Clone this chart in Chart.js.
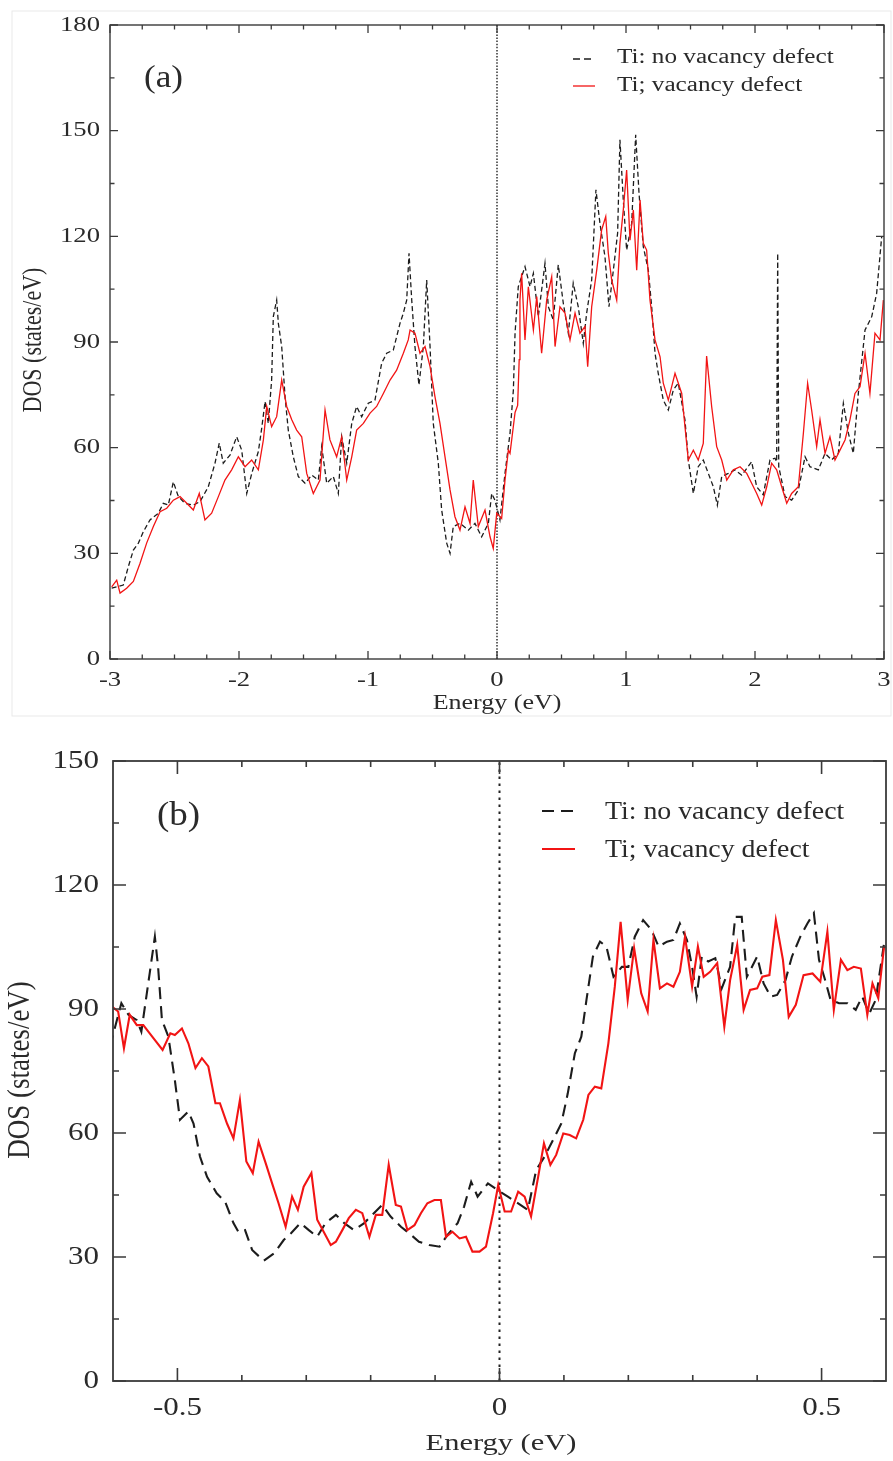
<!DOCTYPE html>
<html>
<head>
<meta charset="utf-8">
<title>Ti DOS with and without vacancy defect</title>
<script src="https://cdn.jsdelivr.net/npm/chart.js@4.4.4/dist/chart.umd.min.js"></script>
<style>
  html, body { margin: 0; padding: 0; background: #fff; }
  body { width: 893px; height: 1461px; position: relative; overflow: hidden; }
  canvas { position: absolute; left: 0; }
  #panelA { top: 0; }
  #panelB { top: 722px; }
</style>
</head>
<body>
<canvas id="panelA" width="893" height="722"></canvas>
<canvas id="panelB" width="893" height="739"></canvas>
<script>
// ---- values ----

// (a) -3 .. 3 eV, no vacancy (black dashed)
const energyA_noVac = [-2.987, -2.897, -2.858, -2.819, -2.780, -2.742, -2.690, -2.625, -2.587, -2.548,
  -2.509, -2.470, -2.419, -2.354, -2.302, -2.238, -2.186, -2.153, -2.122, -2.070,
  -2.018, -1.979, -1.940, -1.901, -1.850, -1.824, -1.798, -1.773, -1.747, -1.734,
  -1.708, -1.695, -1.669, -1.643, -1.618, -1.579, -1.540, -1.488, -1.436, -1.385,
  -1.359, -1.320, -1.269, -1.230, -1.204, -1.165, -1.126, -1.088, -1.049, -0.998,
  -0.946, -0.894, -0.855, -0.804, -0.752, -0.726, -0.700, -0.682, -0.661, -0.636,
  -0.605, -0.571, -0.545, -0.519, -0.494, -0.455, -0.429, -0.390, -0.364, -0.339,
  -0.287, -0.222, -0.171, -0.119, -0.067, -0.041, -0.016, 0.023, 0.062, 0.101,
  0.127, 0.140, 0.165, 0.217, 0.256, 0.282, 0.320, 0.372, 0.398, 0.436,
  0.475, 0.514, 0.553, 0.591, 0.630, 0.669, 0.695, 0.734, 0.767, 0.798,
  0.837, 0.868, 0.902, 0.935, 0.953, 0.979, 1.005, 1.044, 1.075, 1.101,
  1.134, 1.173, 1.199, 1.225, 1.250, 1.289, 1.328, 1.367, 1.405, 1.457,
  1.483, 1.522, 1.560, 1.599, 1.638, 1.677, 1.708, 1.742, 1.793, 1.845,
  1.897, 1.974, 2.013, 2.064, 2.116, 2.155, 2.168, 2.176, 2.184, 2.233,
  2.284, 2.336, 2.388, 2.426, 2.491, 2.543, 2.594, 2.646, 2.685, 2.724,
  2.762, 2.801, 2.853, 2.905, 2.943, 2.982];
const dosA_noVac = [20.1, 21.0, 26.2, 30.9, 32.9, 36.1, 39.5, 41.4, 44.2, 43.7,
  50.3, 46.1, 44.2, 43.7, 44.7, 48.9, 55.6, 61.3, 55.6, 57.9,
  63.1, 59.3, 47.0, 52.7, 58.9, 65.5, 73.1, 66.9, 79.2, 97.2,
  101.9, 95.3, 88.7, 74.5, 65.0, 57.4, 51.8, 49.9, 52.2, 50.8,
  60.3, 49.9, 51.8, 47.0, 63.1, 55.6, 66.9, 71.7, 68.8, 72.6,
  73.5, 84.0, 86.8, 87.7, 95.3, 98.2, 101.9, 115.2, 101.9, 88.7,
  77.8, 88.7, 107.6, 88.7, 66.9, 55.6, 42.3, 32.9, 30.0, 37.6,
  38.5, 36.6, 38.5, 34.7, 38.5, 47.0, 45.1, 39.5, 52.7, 64.1,
  76.4, 92.6, 105.7, 111.4, 105.7, 109.5, 97.2, 112.3, 100.0, 96.3,
  111.9, 101.0, 92.5, 106.7, 100.0, 89.6, 98.2, 107.6, 133.2, 123.7,
  114.2, 100.0, 110.4, 120.9, 147.4, 130.3, 116.1, 123.7, 148.8, 132.2,
  117.1, 110.4, 100.0, 86.8, 81.1, 73.5, 70.7, 76.4, 78.3, 67.9,
  56.5, 47.0, 54.6, 56.5, 52.7, 48.9, 43.7, 51.8, 52.7, 53.7,
  52.2, 56.0, 48.9, 46.6, 56.5, 57.0, 56.0, 115.2, 54.6, 46.1,
  45.1, 48.0, 57.4, 54.6, 53.7, 58.4, 56.5, 58.4, 72.6, 64.1,
  58.4, 75.4, 93.4, 97.2, 103.8, 119.9];

// (a) -3 .. 3 eV, vacancy (red)
const energyA_vac = [-2.987, -2.948, -2.922, -2.871, -2.819, -2.767, -2.716, -2.664, -2.612, -2.560,
  -2.509, -2.457, -2.405, -2.354, -2.308, -2.264, -2.212, -2.160, -2.109, -2.057,
  -2.005, -1.953, -1.902, -1.850, -1.811, -1.785, -1.747, -1.708, -1.669, -1.630,
  -1.591, -1.553, -1.514, -1.475, -1.424, -1.372, -1.333, -1.295, -1.243, -1.204,
  -1.165, -1.126, -1.088, -1.036, -0.984, -0.933, -0.881, -0.829, -0.778, -0.726,
  -0.688, -0.674, -0.636, -0.597, -0.558, -0.519, -0.481, -0.442, -0.403, -0.364,
  -0.326, -0.287, -0.248, -0.209, -0.184, -0.145, -0.093, -0.054, -0.029, -0.002,
  0.036, 0.062, 0.088, 0.101, 0.140, 0.160, 0.172, 0.178, 0.191, 0.217,
  0.243, 0.282, 0.308, 0.346, 0.385, 0.424, 0.450, 0.488, 0.527, 0.566,
  0.605, 0.643, 0.682, 0.703, 0.734, 0.773, 0.811, 0.843, 0.863, 0.889,
  0.928, 0.953, 0.979, 1.005, 1.031, 1.057, 1.083, 1.109, 1.134, 1.160,
  1.186, 1.225, 1.264, 1.289, 1.328, 1.380, 1.432, 1.457, 1.483, 1.522,
  1.560, 1.599, 1.625, 1.664, 1.703, 1.742, 1.781, 1.832, 1.884, 1.936,
  1.974, 2.013, 2.052, 2.091, 2.129, 2.168, 2.207, 2.246, 2.284, 2.336,
  2.375, 2.408, 2.439, 2.478, 2.504, 2.543, 2.581, 2.620, 2.659, 2.698,
  2.736, 2.775, 2.814, 2.853, 2.891, 2.930, 2.969, 2.995];
const dosA_vac = [20.5, 22.4, 18.7, 20.1, 22.0, 27.2, 32.9, 37.6, 41.8, 42.8,
  45.1, 46.1, 44.2, 42.3, 47.0, 39.5, 41.4, 46.1, 50.8, 53.7,
  57.4, 54.6, 56.5, 53.7, 62.2, 71.7, 66.0, 68.8, 79.2, 71.7,
  67.9, 65.0, 63.1, 52.7, 47.0, 50.8, 70.7, 62.2, 57.4, 63.1,
  50.8, 57.4, 65.0, 66.9, 69.8, 71.7, 75.4, 79.2, 82.0, 86.8,
  90.6, 93.4, 92.5, 86.8, 88.7, 83.0, 74.5, 66.9, 57.4, 48.0,
  40.4, 36.6, 43.2, 38.5, 50.8, 37.6, 42.3, 34.7, 31.4, 41.4,
  39.9, 50.8, 59.3, 58.4, 70.0, 72.0, 85.0, 101.9, 109.5, 90.6,
  105.7, 93.4, 102.9, 86.8, 101.9, 108.5, 88.7, 100.0, 98.2, 90.6,
  98.2, 92.5, 94.4, 83.0, 100.0, 110.4, 121.8, 125.6, 115.2, 107.6,
  101.9, 118.0, 127.5, 138.8, 118.9, 127.5, 110.4, 130.3, 118.0, 116.1,
  101.9, 90.6, 85.8, 78.3, 73.5, 81.1, 75.4, 66.0, 56.5, 59.3,
  56.5, 61.2, 86.0, 71.7, 60.3, 56.5, 50.8, 53.7, 54.6, 52.7,
  49.9, 47.0, 43.7, 48.9, 55.6, 53.7, 48.9, 44.2, 47.0, 48.9,
  64.1, 78.3, 70.7, 60.3, 67.9, 58.4, 63.1, 56.5, 59.3, 62.2,
  67.9, 75.4, 77.3, 86.8, 75.4, 92.5, 90.6, 101.9];

// (b) -0.6 .. 0.6 eV, no vacancy (black dashed)
const energyB_noVac = [-0.605, -0.587, -0.576, -0.563, -0.556, -0.543, -0.535, -0.530, -0.524, -0.514,
  -0.504, -0.496, -0.483, -0.475, -0.465, -0.454, -0.439, -0.426, -0.413, -0.405,
  -0.395, -0.384, -0.366, -0.350, -0.335, -0.324, -0.309, -0.296, -0.283, -0.270,
  -0.254, -0.241, -0.226, -0.210, -0.195, -0.182, -0.169, -0.153, -0.140, -0.125,
  -0.109, -0.093, -0.081, -0.065, -0.055, -0.044, -0.034, -0.018, -0.003, 0.013,
  0.029, 0.044, 0.057, 0.070, 0.083, 0.096, 0.106, 0.117, 0.127, 0.135,
  0.145, 0.156, 0.166, 0.177, 0.190, 0.200, 0.210, 0.223, 0.236, 0.247,
  0.260, 0.270, 0.280, 0.291, 0.299, 0.306, 0.314, 0.324, 0.335, 0.345,
  0.358, 0.366, 0.376, 0.384, 0.392, 0.400, 0.410, 0.421, 0.431, 0.444,
  0.454, 0.467, 0.478, 0.488, 0.496, 0.504, 0.514, 0.527, 0.540, 0.553,
  0.563, 0.574, 0.584, 0.597];
const dosB_noVac = [80.8, 91.4, 88.6, 87.3, 84.5, 98.7, 107.5, 100.2, 87.3, 83.3,
  72.8, 63.2, 65.2, 62.3, 54.3, 49.4, 45.4, 43.4, 38.2, 36.0,
  36.5, 31.7, 29.1, 30.9, 34.1, 35.7, 38.2, 36.5, 34.9, 38.2,
  40.2, 38.2, 36.5, 38.2, 40.6, 42.6, 39.8, 37.3, 35.7, 33.7,
  32.9, 32.5, 35.3, 38.2, 42.2, 48.2, 44.6, 47.8, 46.2, 44.6,
  43.0, 41.4, 51.1, 54.3, 58.3, 62.3, 69.6, 79.3, 83.3, 92.2,
  102.7, 106.3, 105.1, 97.8, 100.2, 100.2, 107.5, 111.5, 109.1, 105.1,
  106.3, 106.7, 110.7, 106.7, 100.2, 93.0, 102.7, 101.5, 102.3, 95.0,
  100.2, 112.3, 112.3, 97.8, 100.2, 102.7, 96.2, 93.0, 93.4, 97.0,
  102.7, 107.5, 110.7, 113.2, 101.9, 97.8, 92.2, 91.4, 91.4, 89.8,
  93.0, 88.9, 92.2, 105.9];

// (b) -0.6 .. 0.6 eV, vacancy (red)
const energyB_vac = [-0.605, -0.592, -0.583, -0.574, -0.563, -0.553, -0.537, -0.523, -0.511, -0.504,
  -0.493, -0.483, -0.472, -0.462, -0.452, -0.441, -0.434, -0.423, -0.413, -0.403,
  -0.393, -0.383, -0.374, -0.363, -0.353, -0.343, -0.332, -0.322, -0.313, -0.304,
  -0.292, -0.283, -0.273, -0.262, -0.254, -0.244, -0.234, -0.223, -0.213, -0.202,
  -0.192, -0.182, -0.172, -0.161, -0.153, -0.143, -0.132, -0.122, -0.112, -0.101,
  -0.091, -0.083, -0.073, -0.062, -0.052, -0.042, -0.031, -0.021, -0.010, -0.002,
  0.008, 0.018, 0.029, 0.039, 0.049, 0.060, 0.069, 0.079, 0.088, 0.099,
  0.109, 0.119, 0.130, 0.138, 0.148, 0.158, 0.169, 0.179, 0.188, 0.199,
  0.209, 0.220, 0.230, 0.239, 0.249, 0.260, 0.270, 0.280, 0.288, 0.299,
  0.308, 0.317, 0.327, 0.338, 0.349, 0.358, 0.369, 0.379, 0.389, 0.400,
  0.408, 0.419, 0.429, 0.440, 0.449, 0.460, 0.472, 0.486, 0.498, 0.509,
  0.519, 0.530, 0.540, 0.550, 0.561, 0.571, 0.579, 0.588, 0.597];
const dosB_vac = [91.0, 89.4, 80.5, 88.6, 86.1, 86.1, 82.9, 80.1, 84.1, 83.7,
  85.3, 81.7, 75.7, 78.1, 76.1, 67.2, 67.2, 62.3, 58.7, 68.0,
  53.1, 50.3, 57.9, 52.7, 47.8, 43.0, 37.3, 44.6, 41.4, 47.0,
  50.3, 39.0, 36.1, 32.9, 33.7, 36.5, 39.4, 41.4, 40.6, 34.9,
  40.2, 40.2, 52.3, 42.6, 42.2, 36.5, 37.7, 40.6, 43.0, 43.8,
  43.8, 34.9, 36.1, 34.5, 34.9, 31.3, 31.3, 32.5, 40.6, 47.4,
  41.0, 41.0, 45.8, 44.6, 39.8, 49.4, 57.5, 52.3, 54.7, 59.9,
  59.5, 58.7, 63.2, 69.2, 71.2, 70.8, 81.7, 95.4, 111.1, 92.2,
  104.7, 93.8, 89.4, 106.7, 95.0, 96.2, 95.4, 99.0, 107.5, 95.4,
  105.1, 97.8, 99.0, 101.1, 85.7, 97.0, 105.5, 89.8, 94.6, 95.0,
  97.8, 98.2, 111.5, 101.9, 88.1, 91.0, 98.2, 98.6, 96.6, 108.7,
  89.8, 101.9, 99.4, 100.2, 99.8, 88.6, 96.2, 92.6, 105.1];

const seriesLabels = ['Ti: no vacancy defect', 'Ti; vacancy defect'];
const fermiEnergy = [0, 0];

// axis ticks
const xTicksA = [-3, -2, -1, 0, 1, 2, 3];
const xMinorA = [-2.75, -2.5, -2.25, -1.75, -1.5, -1.25, -0.75, -0.5, -0.25,
  0.25, 0.5, 0.75, 1.25, 1.5, 1.75, 2.25, 2.5, 2.75];
const yTicksA = [0, 30, 60, 90, 120, 150, 180];
const yMinorA = [15, 45, 75, 105, 135, 165];
const xTicksB = [-0.5, 0, 0.5];
const xMinorB = [-0.4, -0.3, -0.2, -0.1, 0.1, 0.2, 0.3, 0.4];
const yTicksB = [0, 30, 60, 90, 120, 150];
const yMinorB = [15, 45, 75, 105, 135];

// ---- styling ----
const RED = '#f21414';
const BLACK = '#1c1c1c';
const TEXT = '#2a2a2a';
const AXIS = '#3a3a3a';
const SERIF = '"Liberation Serif", "Times New Roman", serif';

// the scanned figure is squeezed horizontally, so text gets an x-stretch
function drawText(ctx, text, x, y, o) {
    ctx.save();
    ctx.font = `${o.size}px ${SERIF}`;
    ctx.fillStyle = TEXT;
    ctx.textAlign = o.align || 'left';
    ctx.textBaseline = o.baseline || 'alphabetic';
    ctx.translate(x, y);
    ctx.scale(o.stretch || 1, 1);
    if (o.rotate) ctx.rotate(-Math.PI / 2);
    ctx.fillText(text, 0, 0);
    ctx.restore();
}

const toPoints = (xs, ys) => xs.map((x, i) => ({ x, y: ys[i] }));

/**
 * Frame, inward ticks (all four sides), labels, titles, legend and panel letter.
 */
function decorPlugin(p) {
    return {
        id: 'decor',
        beforeDraw(chart) {
            if (!p.outer) return;
            const ctx = chart.ctx;
            ctx.save();
            ctx.strokeStyle = '#e9e9e9';
            ctx.lineWidth = 1;
            ctx.strokeRect(p.outer[0], p.outer[1] - p.top, p.outer[2], p.outer[3]);
            ctx.restore();
        },
        afterDraw(chart) {
            const { ctx, chartArea: a, scales: { x, y } } = chart;
            const off = p.top;
            ctx.save();
            ctx.strokeStyle = AXIS;
            ctx.lineWidth = p.frameWidth;
            ctx.strokeRect(a.left, a.top, a.right - a.left, a.bottom - a.top);

            ctx.lineWidth = p.tickWidth;
            ctx.beginPath();
            [[p.xMajor, p.majorLen], [p.xMinor, p.minorLen]].forEach(([vals, len]) => {
                vals.forEach(v => {
                    const px = x.getPixelForValue(v);
                    ctx.moveTo(px, a.bottom); ctx.lineTo(px, a.bottom - len);
                    ctx.moveTo(px, a.top); ctx.lineTo(px, a.top + len);
                });
            });
            [[p.yMajor, p.majorLen], [p.yMinor, p.minorLen]].forEach(([vals, len]) => {
                vals.forEach(v => {
                    const py = y.getPixelForValue(v);
                    ctx.moveTo(a.left, py); ctx.lineTo(a.left + len, py);
                    ctx.moveTo(a.right, py); ctx.lineTo(a.right - len, py);
                });
            });
            ctx.stroke();
            ctx.restore();

            // tick labels
            const tf = { size: p.tickSize, stretch: p.tickStretch, baseline: 'middle' };
            p.yMajor.forEach(v => drawText(ctx, String(v), p.yLabelRight, y.getPixelForValue(v), { ...tf, align: 'right' }));
            p.xMajor.forEach(v => drawText(ctx, String(v), x.getPixelForValue(v), p.xLabelMid - off, { ...tf, align: 'center' }));

            // axis titles
            drawText(ctx, 'Energy (eV)', p.xTitle.x, p.xTitle.y - off, { ...p.xTitle, align: 'center' });
            drawText(ctx, 'DOS (states/eV)', p.yTitle.x, p.yTitle.y - off, { ...p.yTitle, align: 'center', baseline: 'middle', rotate: true });

            // legend
            const L = p.legend;
            ctx.save();
            ctx.lineWidth = p.lineWidth;
            ctx.strokeStyle = BLACK;
            ctx.setLineDash(L.dash);
            ctx.beginPath();
            ctx.moveTo(L.x0, L.sampleY[0] - off); ctx.lineTo(L.x1, L.sampleY[0] - off);
            ctx.stroke();
            ctx.setLineDash([]);
            ctx.strokeStyle = RED;
            ctx.beginPath();
            ctx.moveTo(L.x0, L.sampleY[1] - off); ctx.lineTo(L.x1, L.sampleY[1] - off);
            ctx.stroke();
            ctx.restore();
            seriesLabels.forEach((t, i) => drawText(ctx, t, L.textX, L.baseY[i] - off, { size: L.size, stretch: L.stretch }));

            // panel letter
            drawText(ctx, p.letter.text, p.letter.x, p.letter.y - off, p.letter);
        }
    };
}

function buildPanel(id, p) {
    return new Chart(document.getElementById(id), {
        type: 'line',
        data: {
            datasets: [
                { label: seriesLabels[1], data: toPoints(p.vacX, p.vacY), borderColor: RED, borderWidth: p.lineWidth, order: 0 },
                { label: seriesLabels[0], data: toPoints(p.noVacX, p.noVacY), borderColor: BLACK, borderWidth: p.lineWidth, borderDash: p.dash, order: 1 },
                { label: 'Fermi level', data: toPoints(fermiEnergy, [p.yMin, p.yMax]), borderColor: '#222', borderWidth: p.dotWidth, borderDash: p.dotDash, order: 2 }
            ]
        },
        options: {
            responsive: false,
            animation: false,
            events: [],
            elements: { point: { radius: 0 }, line: { tension: 0, fill: false } },
            layout: { padding: p.padding },
            plugins: { legend: { display: false }, tooltip: { enabled: false } },
            scales: {
                x: {
                    type: 'linear', min: p.xMin, max: p.xMax,
                    grid: { display: false }, border: { display: false }, ticks: { display: false },
                    afterFit: s => { s.height = p.xHeight; }
                },
                y: {
                    min: p.yMin, max: p.yMax,
                    grid: { display: false }, border: { display: false }, ticks: { display: false },
                    afterFit: s => { s.width = p.yWidth; }
                }
            }
        },
        plugins: [decorPlugin(p)]
    });
}

buildPanel('panelA', {
    top: 0,
    noVacX: energyA_noVac, noVacY: dosA_noVac, vacX: energyA_vac, vacY: dosA_vac,
    xMin: -3, xMax: 3, yMin: 0, yMax: 180,
    xMajor: xTicksA, xMinor: xMinorA, yMajor: yTicksA, yMinor: yMinorA,
    padding: { top: 25, right: 9, left: 0, bottom: 0 }, yWidth: 110, xHeight: 63,
    lineWidth: 1.3, dash: [5, 3], dotWidth: 1.4, dotDash: [1.5, 1.6],
    frameWidth: 1.4, tickWidth: 1.3, majorLen: 8, minorLen: 4.5,
    tickSize: 21, tickStretch: 1.27, yLabelRight: 100, xLabelMid: 680,
    xTitle: { x: 497, y: 709, size: 20, stretch: 1.3 },
    yTitle: { x: 34, y: 340, size: 22, stretch: 1.2 },
    legend: { x0: 573, x1: 595, sampleY: [59, 86], textX: 617, baseY: [63, 90.5], size: 20, stretch: 1.26, dash: [7, 4] },
    letter: { text: '(a)', x: 144, y: 87, size: 32, stretch: 1.1 },
    outer: [12, 11, 879, 705]
});

buildPanel('panelB', {
    top: 722,
    noVacX: energyB_noVac, noVacY: dosB_noVac, vacX: energyB_vac, vacY: dosB_vac,
    xMin: -0.6, xMax: 0.6, yMin: 0, yMax: 150,
    xMajor: xTicksB, xMinor: xMinorB, yMajor: yTicksB, yMinor: yMinorB,
    padding: { top: 39, right: 7, left: 0, bottom: 0 }, yWidth: 113, xHeight: 80,
    lineWidth: 2.1, dash: [12, 7], dotWidth: 2, dotDash: [2.5, 4.5],
    frameWidth: 1.8, tickWidth: 1.6, majorLen: 13, minorLen: 6,
    tickSize: 25, tickStretch: 1.24, yLabelRight: 99, xLabelMid: 1408,
    xTitle: { x: 501, y: 1450, size: 24, stretch: 1.27 },
    yTitle: { x: 20, y: 1070, size: 27, stretch: 1.2 },
    legend: { x0: 542, x1: 575, sampleY: [811, 849], textX: 605, baseY: [819, 857], size: 26, stretch: 1.07, dash: [12, 7] },
    letter: { text: '(b)', x: 157, y: 825, size: 33, stretch: 1.12 }
});
</script>
</body>
</html>
